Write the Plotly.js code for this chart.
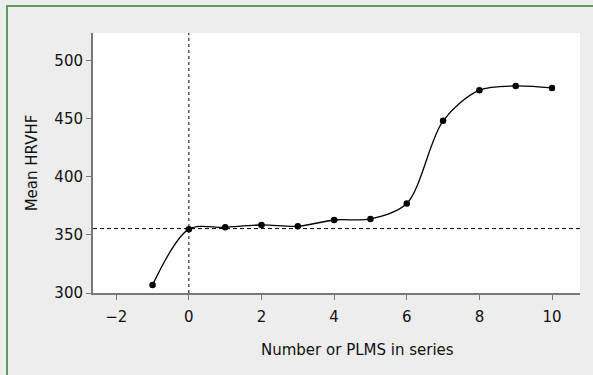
<!DOCTYPE html>
<html>
<head>
<meta charset="utf-8">
<script src="https://cdn.plot.ly/plotly-3.0.1.min.js"></script>
<style>
  html, body { margin: 0; padding: 0; background: #ededed; }
  #wrap { position: relative; width: 593px; height: 375px; }
  #chart { width: 593px; height: 375px; }
  #frame { position: absolute; left: 6px; top: 5px; right: 0; bottom: 0;
           border-top: 2px solid #5c9c5c; border-left: 2px solid #5c9c5c;
           pointer-events: none; }
</style>
</head>
<body>
<div id="wrap">
  <div id="chart"></div>
  <div id="frame"></div>
</div>
<script>
const plmsCount = [-1, 0, 1, 2, 3, 4, 5, 6, 7, 8, 9, 10];
const meanHRVHF = [307, 355, 356.6, 358.6, 357.5, 362.9, 363.8, 377.1, 448.3, 474.7, 478.4, 476.7];
const baselineValue = 355.5;
const xTicks = [-2, 0, 2, 4, 6, 8, 10];
const yTicks = [300, 350, 400, 450, 500];
const xTitle = 'Number or PLMS in series';
const yTitle = 'Mean HRVHF';

const font = { family: 'DejaVu Sans, Verdana, sans-serif', size: 15, color: '#111' };

const traces = [{
  x: plmsCount,
  y: meanHRVHF,
  type: 'scatter',
  mode: 'lines+markers',
  line: { color: '#000', width: 1.3, shape: 'spline', smoothing: 0.9 },
  marker: { color: '#000', size: 6.5 },
  hoverinfo: 'x+y',
  showlegend: false
}];

const layout = {
  width: 593, height: 375,
  margin: { l: 93, r: 13, t: 33, b: 82 },
  paper_bgcolor: '#ededed',
  plot_bgcolor: '#ffffff',
  font: font,
  xaxis: {
    range: [-2.64, 10.77],
    tickvals: xTicks,
    ticktext: xTicks.map(v => v < 0 ? '\u2212' + Math.abs(v) : String(v)),
    showgrid: false, zeroline: false,
    showline: true, linecolor: '#777', linewidth: 2,
    ticks: 'outside', ticklen: 5, tickcolor: '#777', tickwidth: 1,
    ticklabelstandoff: 4,
    tickfont: font
  },
  yaxis: {
    range: [300, 524],
    tickvals: yTicks,
    showgrid: false, zeroline: false,
    showline: true, linecolor: '#777', linewidth: 2,
    ticks: 'outside', ticklen: 5, tickcolor: '#777', tickwidth: 1,
    tickfont: font,
    title: { text: yTitle, font: font, standoff: 13 }
  },
  annotations: [
    { text: xTitle, xref: 'paper', yref: 'paper', x: 0.543, y: -0.219,
      xanchor: 'center', yanchor: 'middle', showarrow: false, font: font }
  ],
  shapes: [
    { type: 'line', xref: 'x', yref: 'paper', x0: 0, x1: 0, y0: 0, y1: 1,
      line: { color: '#000', width: 1, dash: 'dot' } },
    { type: 'line', xref: 'paper', yref: 'y', x0: 0, x1: 1, y0: baselineValue, y1: baselineValue,
      line: { color: '#000', width: 1, dash: '4px,3px' } }
  ]
};

Plotly.newPlot('chart', traces, layout, { displayModeBar: false, staticPlot: true });
</script>
</body>
</html>
